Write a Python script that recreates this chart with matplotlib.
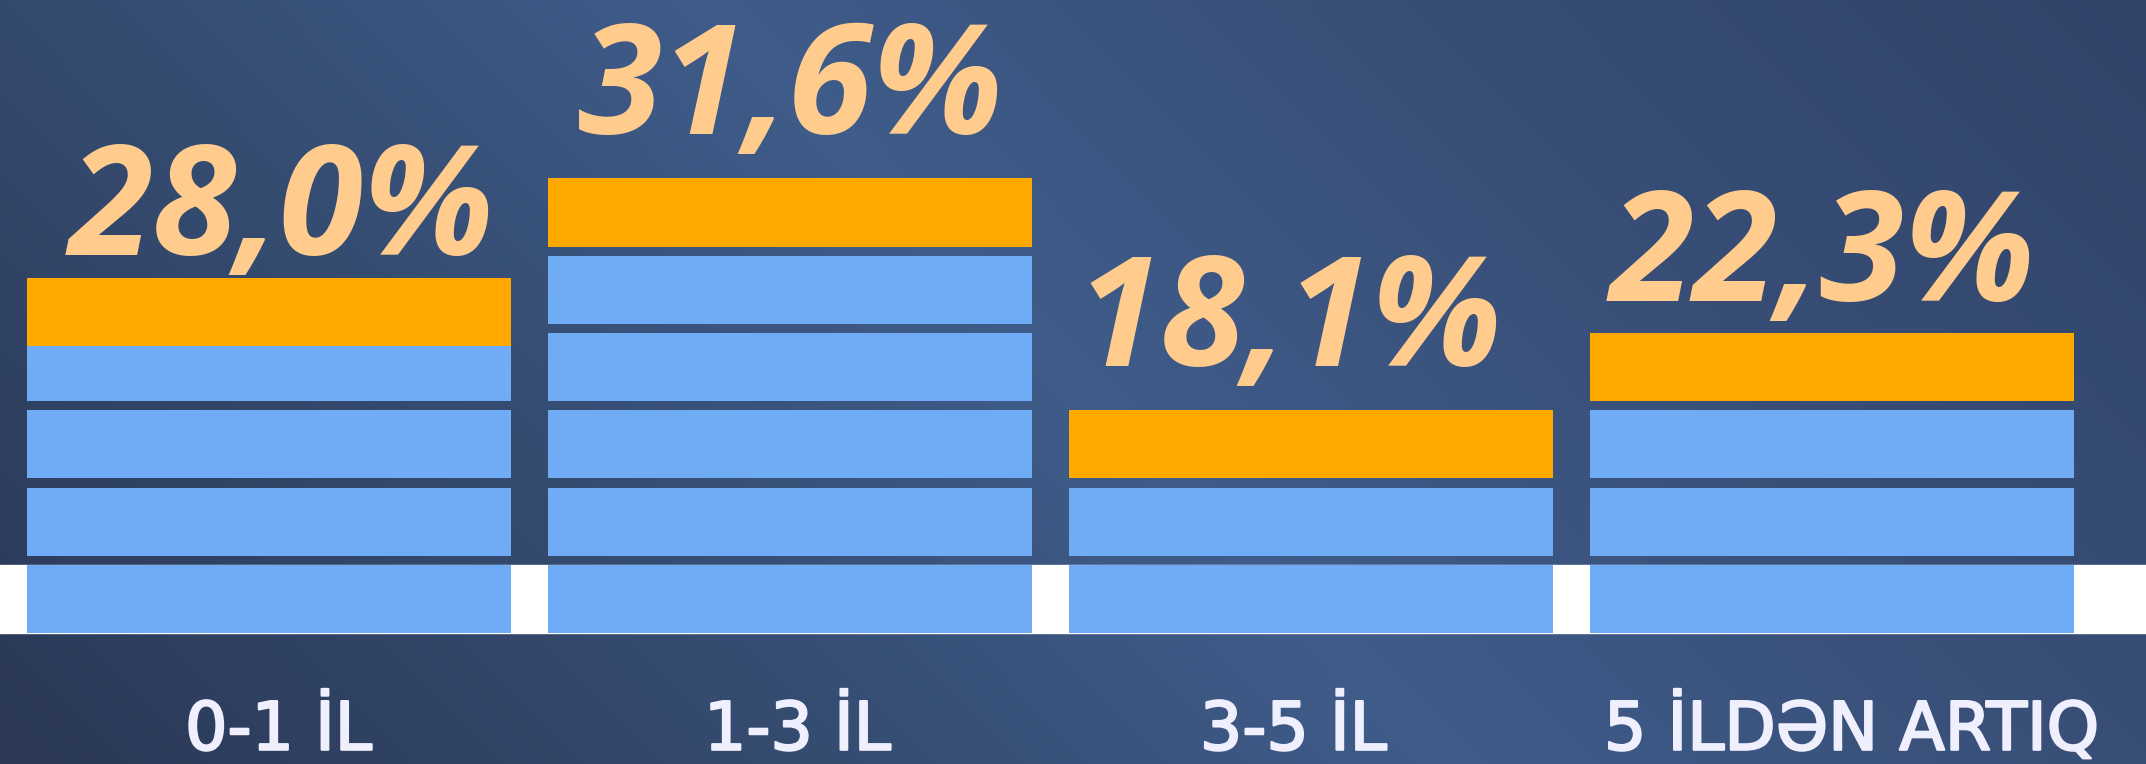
import matplotlib
matplotlib.use("Agg")
import matplotlib.pyplot as plt
import matplotlib.patheffects as pe
import numpy as np
from matplotlib.colors import LinearSegmentedColormap

# data
categories = ["0-1 İL", "1-3 İL", "3-5 İL", "5 İLDƏN ARTIQ"]
values = [28.0, 31.6, 18.1, 22.3]
value_labels = ["28,0%", "31,6%", "18,1%", "22,3%"]
blue_blocks = [4, 5, 2, 3]            # number of light-blue blocks per column
orange_level = [3.71, 5.0, 2.0, 3.0]  # bottom of the orange block, in block units

# styling
BLUE = "#6FACF5"
ORANGE = "#FFA800"
PEACH = "#FFCC8E"
LABEL = "#EFEFFD"
block_h = 0.88
bar_w = 0.93
label_lift = [0.30, 0.58, 0.58, 0.41]
value_dx = [0.023, 0.002, -0.041, -0.019]
cat_dx = [0.018, 0.014, -0.034, 0.037]

W, H = 2146, 764
fig = plt.figure(figsize=(W / 100, H / 100), dpi=100)

# background: diagonal gradient, light streak through the middle
bg = fig.add_axes([0, 0, 1, 1])
yy, xx = np.mgrid[0:H, 0:W]
d = ((xx - 700) * 764 - yy * 750) / 1071.0
stops = [(-1034, "#2B3856"), (-499, "#344A6E"), (0, "#3F5C8A"),
         (500, "#384E76"), (1031, "#31446A")]
lo, hi = stops[0][0], stops[-1][0]
cmap = LinearSegmentedColormap.from_list(
    "bg", [((s - lo) / (hi - lo), c) for s, c in stops])
bg.imshow(d, cmap=cmap, vmin=lo, vmax=hi, aspect="auto",
          extent=(0, W, H, 0), interpolation="bilinear")
bg.set_axis_off()

ax = fig.add_axes([0, 0, 1, 1])
ax.patch.set_alpha(0)
x0, unit_x = 269, 521.0
base, unit_y = 633, 77.3
ax.set_xlim(-x0 / unit_x, (W - x0) / unit_x)
ax.set_ylim(-(H - base) / unit_y, base / unit_y)
ax.set_axis_off()

# white strip behind the bottom row
ax.axhspan(0, block_h, color="white", zorder=1)

x = np.arange(len(categories))
for i in x:
    levels = np.arange(blue_blocks[i])
    ax.bar(np.full(len(levels), i), block_h, bottom=levels, width=bar_w,
           color=BLUE, zorder=2)
    ax.bar(i, block_h, bottom=orange_level[i], width=bar_w,
           color=ORANGE, zorder=3)
    ax.text(i + value_dx[i], orange_level[i] + block_h + label_lift[i],
            value_labels[i], ha="center", va="baseline", color=PEACH,
            fontsize=110, family=["Open Sans", "DejaVu Sans"],
            fontweight="bold", fontstyle="italic", zorder=4)
    # book weight thickened a little to look like a medium cut
    ax.text(i + cat_dx[i], -1.51, categories[i], ha="center", va="baseline",
            color=LABEL, fontsize=48, family=["DejaVu Sans"],
            zorder=4,
            path_effects=[pe.withStroke(linewidth=1.6, foreground=LABEL)])

fig.savefig("out.png", dpi=100)
